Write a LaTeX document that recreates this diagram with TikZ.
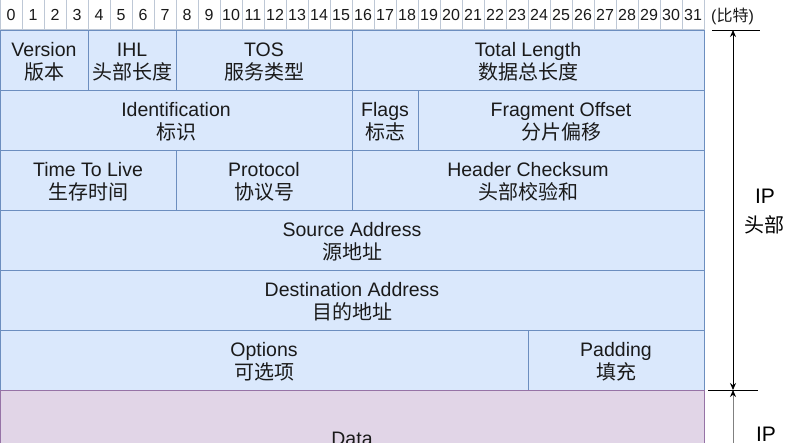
\documentclass[tikz,border=0pt]{standalone}
\usepackage{fontspec}
\setmainfont{Liberation Sans}
\newfontfamily\cjk{Noto Sans CJK SC}
\usetikzlibrary{arrows.meta}
\definecolor{boxfill}{HTML}{DAE8FC}
\definecolor{boxline}{HTML}{6C8EBF}
\definecolor{datafill}{HTML}{E1D5E7}
\definecolor{dataline}{HTML}{9673A6}
\definecolor{rulerline}{RGB}{190,200,214}
\definecolor{txt}{HTML}{1A1A1A}
\tikzset{
  fieldbox/.style={draw=boxline, fill=boxfill, line width=0.9pt, inner sep=0pt, outer sep=0pt, anchor=north west, minimum height=60pt},
  databox/.style={draw=dataline, fill=datafill, line width=0.9pt, inner sep=0pt, outer sep=0pt, anchor=north west},
  bitcell/.style={draw=rulerline, fill=white, line width=0.8pt, inner sep=0pt, outer sep=0pt, minimum width=22pt, minimum height=30pt, text height=11.5pt, text depth=0pt, font=\fontsize{16pt}{18pt}\selectfont, text=txt},
  entext/.style={inner sep=0pt, anchor=base, text=txt, font=\fontsize{19.5pt}{23pt}\selectfont},
  zhtext/.style={inner sep=0pt, anchor=base, text=txt, font=\fontsize{20pt}{23pt}\selectfont\cjk},
  sidetext/.style={inner sep=0pt, anchor=base, text=black, font=\fontsize{21pt}{25pt}\selectfont},
  sidezh/.style={inner sep=0pt, anchor=base, text=black, font=\fontsize{20pt}{25pt}\selectfont\cjk},
  marker/.style={draw=black, line width=0.8pt},
  span/.style={draw=black, line width=0.8pt, {Stealth[length=7pt,width=6pt]}-{Stealth[length=7pt,width=6pt]}},
  spanlow/.style={draw=gray, line width=0.8pt, {Stealth[length=7pt,width=6pt,black]}-},
}
\newcommand\field[6]{%
  \node[fieldbox, minimum width={#3pt-#2pt}] (#1) at (#2,#4) {};
  \node[entext] (#1-en) at ([yshift=-26.5pt]#1.north) {#5};
  \node[zhtext] (#1-zh) at ([yshift=-49.5pt]#1.north) {#6};
}
\begin{document}
\begin{tikzpicture}[x=1pt,y=-1pt]
\useasboundingbox (0,0) rectangle (791,442);
\clip (0,0) rectangle (791,442);
\fill[white] (0,0) rectangle (791,442);
% bit ruler
\foreach \i in {0,...,31} {
  \node[bitcell] (bit\i) at ({22*\i+11},14.5) {\i};
}
\node[inner sep=0pt, anchor=base west, text=txt, font=\fontsize{16pt}{18pt}\selectfont] (unit) at (711,21) {(\cjk 比特\rmfamily)};
% header rows
\field{ver}{0}{88}{30}{Version}{版本}
\field{ihl}{88}{176}{30}{IHL}{头部长度}
\field{tos}{176}{352}{30}{TOS}{服务类型}
\field{tlen}{352}{704}{30}{Total Length}{数据总长度}
\field{ident}{0}{352}{90}{Identification}{标识}
\field{flags}{352}{418}{90}{Flags}{标志}
\field{frag}{418}{704}{90}{Fragment Offset}{分片偏移}
\field{ttl}{0}{176}{150}{Time To Live}{生存时间}
\field{proto}{176}{352}{150}{Protocol}{协议号}
\field{csum}{352}{704}{150}{Header Checksum}{头部校验和}
\field{src}{0}{704}{210}{Source Address}{源地址}
\field{dst}{0}{704}{270}{Destination Address}{目的地址}
\field{opt}{0}{528}{330}{Options}{可选项}
\field{pad}{528}{704}{330}{Padding}{填充}
% data
\node[databox, minimum width=704pt, minimum height=110pt] (data) at (0,390) {};
\node[entext] (data-en) at ([yshift=-55pt]data.north) {Data};
\node[zhtext] (data-zh) at ([yshift=-78pt]data.north) {数据};
% side markers
\coordinate (t1) at (712,30);
\coordinate (t2) at (760,30);
\coordinate (b1) at (708,390);
\coordinate (b2) at (758,390);
\coordinate (atop) at (733,30);
\coordinate (abot) at (733,390);
\coordinate (dbot) at (733,500);
\draw[marker] (t1) -- (t2);
\draw[marker] (b1) -- (b2);
\draw[span] (atop) -- (abot);
\draw[spanlow] (abot) -- (dbot);
\node[sidetext] (iph) at (765,203) {IP};
\node[sidezh] (iph-zh) at (764,232) {头部};
\node[sidetext] (ipd) at (766,441) {IP};
\end{tikzpicture}
\end{document}
